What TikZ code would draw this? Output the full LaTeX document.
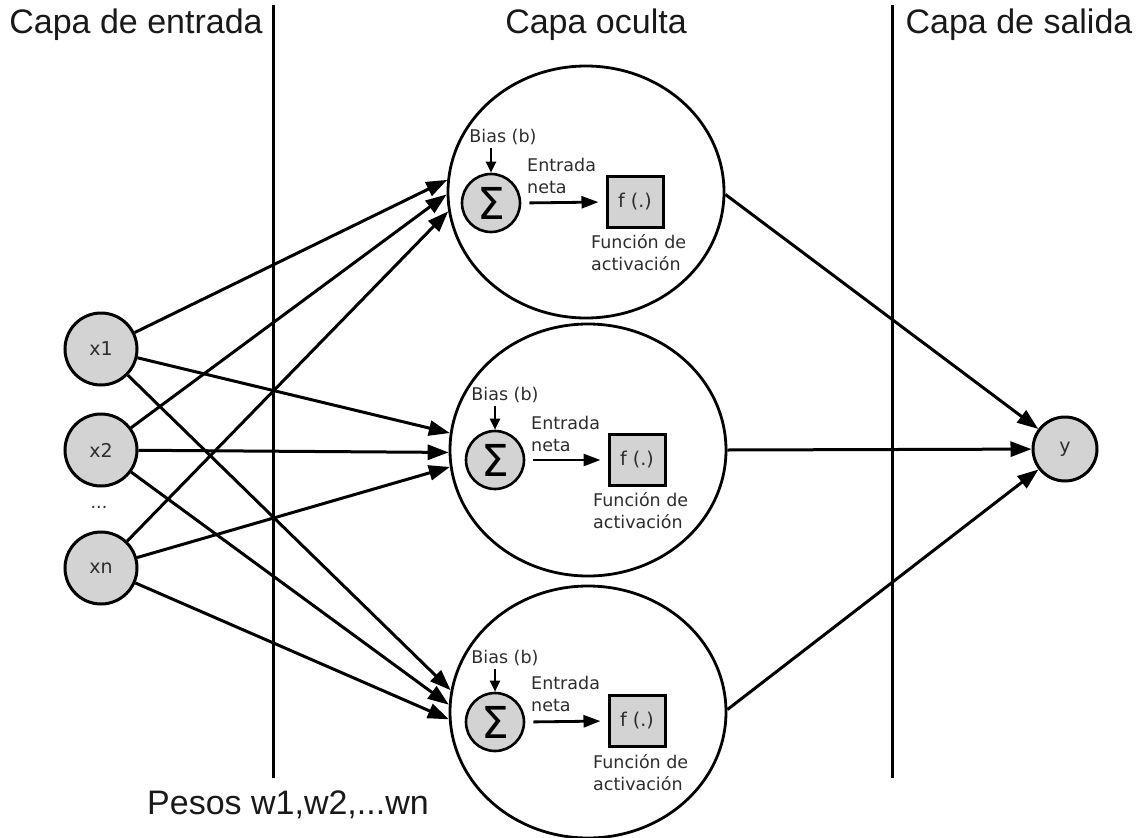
\documentclass[tikz,border=0pt]{standalone}
\usepackage{fontspec}
\setmainfont{DejaVu Sans}
\newfontfamily\bigfont{Liberation Sans}
\usetikzlibrary{arrows.meta,shapes.geometric}
\definecolor{ngray}{RGB}{211,211,211}
\definecolor{tgray}{RGB}{45,45,45}
\begin{document}
\begin{tikzpicture}[x=1pt,y=-1pt,
  big/.style={font=\bigfont\fontsize{34}{38}\selectfont,inner sep=0pt,text=black!90},
  small/.style={font=\fontsize{17.5}{22}\selectfont,text=tgray,inner sep=0pt},
  inp/.style={circle,draw,line width=3pt,fill=ngray,minimum size=72pt,inner sep=0pt,font=\fontsize{19}{20}\selectfont,text=tgray},
  outn/.style={inp,minimum size=64pt},
  hid/.style={ellipse,draw,line width=2.8pt,minimum width=276pt,minimum height=252pt,inner sep=0pt},
  sig/.style={circle,draw,line width=2.6pt,fill=ngray,minimum size=58pt,inner sep=0pt,font=\fontsize{44}{44}\selectfont},
  fbox/.style={rectangle,draw,line width=3pt,fill=ngray,minimum width=56pt,minimum height=51pt,inner sep=0pt,font=\fontsize{19}{20}\selectfont,text=tgray},
  conn/.style={line width=3pt,-{Triangle[length=21pt,width=15pt]}},
  inner/.style={line width=2.8pt,-{Triangle[length=17pt,width=12pt]}},
  biasarr/.style={line width=2.4pt,-{Triangle[length=11pt,width=10pt]}},
  sep/.style={line width=3pt}]
\useasboundingbox (0,0) rectangle (1136,838);

% headers
\node[big] (t1) at (136,25) {Capa de entrada};
\node[big] (t2) at (596,25) {Capa oculta};
\node[big] (t3) at (1019,25) {Capa de salida};
\node[big] (pesos) at (288,805) {Pesos w1,w2,...wn};

% separators
\coordinate (l1a) at (273,5);
\coordinate (l1b) at (273,778);
\coordinate (l2a) at (892,5);
\coordinate (l2b) at (892,778);
\draw[sep] (l1a) -- (l1b);
\draw[sep] (l2a) -- (l2b);

% input nodes
\node[inp] (x1) at (101,349) {x1};
\node[inp] (x2) at (101,450) {x2};
\node[inp] (xn) at (101,568) {xn};
\node[small] (dots) at (99,507) {...};

% output node
\node[outn] (y) at (1065,449) {y};

% hidden neurons
\node[hid] (h1) at (586,192) {};
\node[hid] (h2) at (588,450) {};
\node[hid] (h3) at (588,712) {};
\node[sig] (s1) at (491,203) {Σ};
\node[sig] (s2) at (495,460) {Σ};
\node[sig] (s3) at (495,722) {Σ};
\node[fbox] (f1) at (635,202) {f (.)};
\node[fbox] (f2) at (637,460) {f (.)};
\node[fbox] (f3) at (637,721) {f (.)};

\node[small] (b1) at (503,137) {Bias (b)};
\node[small] (b2) at (505,395) {Bias (b)};
\node[small] (b3) at (505,658) {Bias (b)};

\node[small,anchor=west,align=left] (e1) at (527,176) {Entrada\\neta};
\node[small,anchor=west,align=left] (e2) at (531,434) {Entrada\\neta};
\node[small,anchor=west,align=left] (e3) at (531,694) {Entrada\\neta};

\node[small,anchor=west,align=left] (a1) at (591,253) {Función de\\activación};
\node[small,anchor=west,align=left] (a2) at (593,511) {Función de\\activación};
\node[small,anchor=west,align=left] (a3) at (593,773) {Función de\\activación};

% inner arrows
\foreach \i in {1,2,3}{
  \draw[inner,shorten <=8pt,shorten >=7pt] (s\i.east) -- (f\i.west);
  \draw[biasarr] ([yshift=-3pt]b\i.south -| s\i.north) -- (s\i.north);
}

% input -> hidden
\draw[conn] (x1) -- (h1.175);
\draw[conn] (x2) -- (h1.181);
\draw[conn] (xn) -- (h1.188);
\draw[conn] (x1) -- (h2.173);
\draw[conn] (x2) -- (h2.181);
\draw[conn] (xn) -- (h2.187);
\draw[conn] (x1) -- (h3.171);
\draw[conn] (x2) -- (h3.177);
\draw[conn] (xn) -- (h3.183);

% hidden -> output
\draw[conn] (h1.-1) -- (y);
\draw[conn] (h2.east) -- (y);
\draw[conn] (h3.1) -- (y);
\end{tikzpicture}
\end{document}
